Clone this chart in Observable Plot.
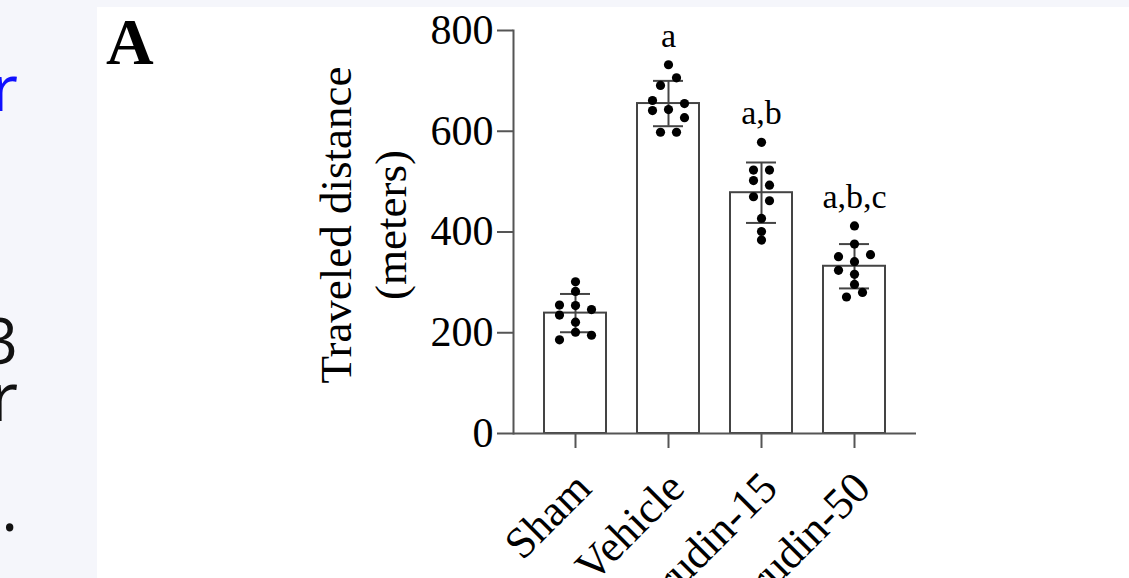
<!DOCTYPE html>
<html>
<head>
<meta charset="utf-8">
<script src="https://cdn.jsdelivr.net/npm/d3@7"></script>
<script src="https://cdn.jsdelivr.net/npm/@observablehq/plot@0.6"></script>
<style>
  html, body { margin: 0; padding: 0; width: 1129px; height: 578px; overflow: hidden; background: #f5f6fb; }
  #panel { position: absolute; left: 97px; top: 7px; right: 0; bottom: 0; background: #ffffff; }
  .side { position: absolute; right: 1111px; font-family: "Open Sans", sans-serif; font-size: 64px; line-height: 50px; color: #111; white-space: nowrap; }
  #chart { position: absolute; left: 0; top: 0; }
  #panelLabel { position: absolute; left: 106px; top: 9px; font-family: "Liberation Serif", serif; font-weight: bold; font-size: 66px; line-height: 66px; color: #000; }
</style>
</head>
<body>
<div id="panel"></div>
<div class="side" style="top:62px;color:#1010ff;">r</div>
<div class="side" style="top:315px;">3</div>
<div class="side" style="top:370px;font-size:68px;">r</div>
<div class="side" style="top:482px;">.</div>
<div id="panelLabel">A</div>
<div id="chart"></div>
<script>
// ---- data ----
const groups = ["Sham", "Vehicle", "Hirudin-15", "Hirudin-50"];
const means = [239, 655, 478, 332];
const sds = [38, 45, 60, 44];
const letters = ["", "a", "a,b", "a,b,c"];
const yTicks = [0, 200, 400, 600, 800];

// individual animals (meters) and their column slot in the scatter (-2..2, half-dot steps)
const shamValues     = [301, 282, 255, 254, 246, 235, 221, 201, 195, 186];
const shamSlots      = [0, 0, -2, 0, 2, -2, 0, 0, 2, -2];
const vehicleValues  = [732, 706, 691, 661, 655, 641, 643, 627, 598, 598];
const vehicleSlots   = [0, 1, -1, -2, 2, -2, 0, 2, -1, 1];
const hir15Values    = [578, 523, 523, 502, 493, 470, 462, 427, 401, 384];
const hir15Slots     = [0, -1, 1, -1, 1, -1, 1, 0, 0, 0];
const hir50Values    = [412, 376, 351, 355, 341, 324, 316, 296, 280, 271];
const hir50Slots     = [0, 0, -2, 2, 0, -2, 0, 0, 1, -1];

const pointValues = [shamValues, vehicleValues, hir15Values, hir50Values];
const pointSlots = [shamSlots, vehicleSlots, hir15Slots, hir50Slots];

const points = groups.flatMap((g, i) =>
  pointValues[i].map((v, j) => ({ group: g, value: v, slot: pointSlots[i][j] })));

const summary = groups.map((g, i) => ({
  group: g,
  mean: means[i],
  lo: means[i] - sds[i],
  hi: means[i] + sds[i],
  letter: letters[i],
  top: d3.max(pointValues[i])
}));

const lineColor = "#555";
const slotStep = 8;

const dotMarks = [-2, -1, 0, 1, 2].map(s =>
  Plot.dot(points.filter(p => p.slot === s), {
    x: "group", y: "value", dx: s * slotStep, r: 4.6, fill: "#000", stroke: "none"
  }));

const chart = Plot.plot({
  width: 1129,
  height: 578,
  marginLeft: 513,
  marginRight: 213,
  marginTop: 30,
  marginBottom: 145,
  style: { fontFamily: "Liberation Serif, serif", background: "transparent", color: "#000" },
  x: { domain: groups, paddingInner: 1 / 3, paddingOuter: 1 / 3, label: null },
  y: { domain: [0, 800], label: null },
  marks: [
    Plot.barY(summary, { x: "group", y: "mean", fill: "#fff", stroke: "#444", strokeWidth: 2 }),
    Plot.ruleX(summary, { x: "group", y1: "lo", y2: "hi", stroke: "#444", strokeWidth: 2 }),
    Plot.tickY(summary, { x: "group", y: "hi", insetLeft: 16, insetRight: 16, stroke: "#444", strokeWidth: 2 }),
    Plot.tickY(summary, { x: "group", y: "lo", insetLeft: 16, insetRight: 16, stroke: "#444", strokeWidth: 2 }),
    ...dotMarks,
    Plot.text(summary, { x: "group", y: "top", text: "letter", dy: -18, lineAnchor: "bottom", fontSize: 34, fill: "#000" }),
    Plot.ruleY([0], { stroke: lineColor, strokeWidth: 2 }),
    Plot.frame({ anchor: "left", stroke: lineColor, strokeWidth: 2 }),
    Plot.axisY({ ticks: yTicks, tickSize: 16, tickPadding: 4, fontSize: 42, stroke: lineColor, strokeWidth: 2, label: null, tickFormat: d => String(d) }),
    Plot.axisX({ tickSize: 15, tickPadding: 4, tickRotate: -45, fontSize: 44, stroke: lineColor, strokeWidth: 2, label: null, textStroke: "none" }),
    Plot.text(["Traveled distance\n(meters)"], { frameAnchor: "left", textAnchor: "middle", rotate: -90, dx: -153, dy: -7, fontSize: 45, lineHeight: 1.22, fill: "#000" })
  ]
});
// shift the rotated category labels down/right as in the reference
chart.querySelectorAll("[aria-label='x-axis tick label'] text").forEach(t => {
  const tr = t.getAttribute("transform") || "";
  t.setAttribute("transform", "translate(8,28) " + tr);
});
document.getElementById("chart").appendChild(chart);
</script>
</body>
</html>
